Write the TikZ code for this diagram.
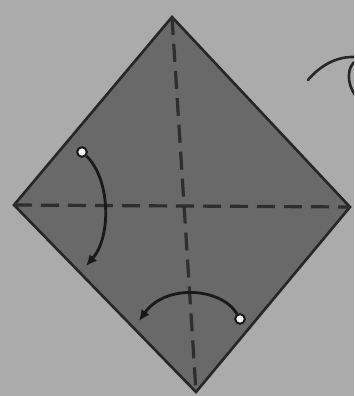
\documentclass[tikz,border=0pt]{standalone}
\usepackage{tikz}
\usetikzlibrary{arrows.meta}
\definecolor{hatter}{gray}{0.67}
\definecolor{papir}{gray}{0.41}
\tikzset{
  lap/.style={draw=black!85,fill=papir,line width=2.6pt,line join=miter},
  hajt/.style={draw=black!82,line width=3.2pt,dash pattern=on 18pt off 9pt},
  nyil/.style={draw=black!90,line width=2.8pt,-{Latex[length=11pt,width=10pt]}},
  ures/.style={circle,draw=black!90,fill=white!92!gray,line width=2pt,inner sep=3.4pt},
  jel/.style={draw=black!85,line width=2.6pt,line cap=round},
}

\begin{document}
\begin{tikzpicture}[x=1pt,y=-1pt]
  \useasboundingbox (0,0) rectangle (354,396);
  \clip (0,0) rectangle (354,396);
  \fill[hatter] (0,0) rectangle (354,396);
  % the square sheet, standing on a corner
  \coordinate (T) at (172,17);
  \coordinate (L) at (14,205);
  \coordinate (R) at (350,207);
  \coordinate (B) at (196,392);
  \draw[lap] (T) -- (R) -- (B) -- (L) -- cycle;
  \draw[hajt] (L) -- (R);
  \draw[hajt] (T) -- (B);
  % fold arrows
  \node[ures] (fel) at (82,152) {};
  \coordinate (le) at (86,266);
  \draw[nyil] (fel) .. controls (110,178) and (112,236) .. (le);
  \node[ures] (jobb) at (240,319) {};
  \coordinate (bal) at (139,321);
  \draw[nyil] (jobb) .. controls (222,288) and (166,283) .. (bal);
  % turn-over sign, cut at the edge
  \draw[jel] (308,80) .. controls (320,66) and (336,56) .. (356,57);
  \draw[jel] (356,61) .. controls (347,66) and (346,84) .. (356,96);
\end{tikzpicture}
\end{document}
